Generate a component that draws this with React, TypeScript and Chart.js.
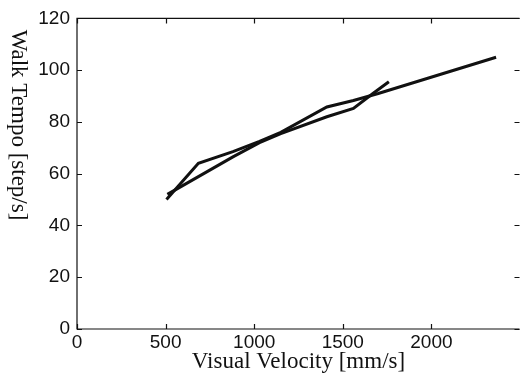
import React, { useEffect, useRef } from "react";
import { Chart, registerables } from "chart.js";

Chart.register(...registerables);

// Series A (longer run)
const seriesAX = [505, 685, 880, 1030, 1150, 1410, 1560, 1700, 2365];
const seriesAY = [50, 64, 68.5, 72.5, 76, 85.8, 88.3, 91, 105];
// Series B (shorter run)
const seriesBX = [510, 880, 1030, 1150, 1410, 1560, 1670, 1760];
const seriesBY = [52, 66.5, 72, 75.5, 82, 85.2, 91, 95.5];

const xTickValues = [0, 500, 1000, 1500, 2000];
const yTickValues = [0, 20, 40, 60, 80, 100, 120];

const xTitle = "Visual Velocity [mm/s]";
const yTitle = "Walk Tempo [step/s]";

const toPoints = (xs: number[], ys: number[]) => xs.map((x, i) => ({ x, y: ys[i] }));

const SANS = "Liberation Sans, Arial, Helvetica, sans-serif";
const SERIF = "Liberation Serif, Times New Roman, serif";

const framePlugin = {
  id: "frameAndTicks",
  afterDraw(chart: any) {
    const { ctx, chartArea } = chart;
    const { left, top, bottom } = chartArea;
    const right = chart.width - 0.5;
    const xs = chart.scales.x;
    const ys = chart.scales.y;
    ctx.save();
    ctx.strokeStyle = "#111";
    ctx.lineWidth = 1.2;
    ctx.beginPath();
    ctx.moveTo(right, top);
    ctx.lineTo(left, top);
    ctx.lineTo(left, bottom);
    ctx.lineTo(right, bottom);
    ctx.stroke();
    const len = 5;
    ctx.beginPath();
    xTickValues.forEach((v) => {
      const px = Math.round(xs.getPixelForValue(v)) + 0.5;
      ctx.moveTo(px, bottom);
      ctx.lineTo(px, bottom - len);
      ctx.moveTo(px, top);
      ctx.lineTo(px, top + len);
    });
    yTickValues.forEach((v) => {
      const py = Math.round(ys.getPixelForValue(v)) + 0.5;
      ctx.moveTo(left, py);
      ctx.lineTo(left + len, py);
      ctx.moveTo(right, py);
      ctx.lineTo(right - len, py);
    });
    ctx.stroke();
    // rotated (clockwise) y title
    ctx.fillStyle = "#111";
    ctx.font = "23px " + SERIF;
    ctx.textAlign = "center";
    ctx.textBaseline = "middle";
    ctx.translate(18, 125);
    ctx.rotate(Math.PI / 2);
    ctx.fillText(yTitle, 0, 0);
    ctx.restore();
  },
};

export default function App() {
  const ref = useRef<HTMLCanvasElement | null>(null);
  useEffect(() => {
    document.body.style.margin = "0";
    const chart = new Chart(ref.current as HTMLCanvasElement, {
      type: "line",
      data: {
        datasets: [
          {
            data: toPoints(seriesAX, seriesAY),
            borderColor: "#111",
            borderWidth: 3,
            pointRadius: 0,
            tension: 0,
            fill: false,
          },
          {
            data: toPoints(seriesBX, seriesBY),
            borderColor: "#111",
            borderWidth: 3,
            pointRadius: 0,
            tension: 0,
            fill: false,
          },
        ],
      },
      options: {
        responsive: false,
        animation: false,
        layout: { padding: { top: 18, left: 0, right: 0, bottom: 0 } },
        plugins: { legend: { display: false }, tooltip: { enabled: false } },
        scales: {
          x: {
            type: "linear",
            min: 0,
            max: 2500,
            afterBuildTicks: (s: any) => {
              s.ticks = xTickValues.map((v) => ({ value: v }));
            },
            afterFit: (s: any) => {
              s.height = 49;
            },
            grid: { display: false, drawTicks: false },
            border: { display: false },
            ticks: {
              autoSkip: false,
              maxRotation: 0,
              padding: 2,
              color: "#111",
              font: { family: SANS, size: 19 },
              callback: (v: any) => String(v),
            },
            title: {
              display: true,
              text: xTitle,
              color: "#111",
              font: { family: SERIF, size: 23 },
              padding: { top: 0, bottom: 2 },
            },
          },
          y: {
            type: "linear",
            min: 0,
            max: 120,
            afterBuildTicks: (s: any) => {
              s.ticks = yTickValues.map((v) => ({ value: v }));
            },
            afterFit: (s: any) => {
              s.width = 77;
            },
            grid: { display: false, drawTicks: false },
            border: { display: false },
            ticks: {
              autoSkip: false,
              padding: 7,
              color: "#111",
              font: { family: SANS, size: 19 },
              callback: (v: any) => String(v),
            },
          },
        },
      },
      plugins: [framePlugin],
    } as any);
    return () => chart.destroy();
  }, []);
  return (
    <div style={{ position: "absolute", left: 0, top: 0, width: 520, height: 378, background: "#fff" }}>
      <canvas ref={ref} width={520} height={378} />
    </div>
  );
}
